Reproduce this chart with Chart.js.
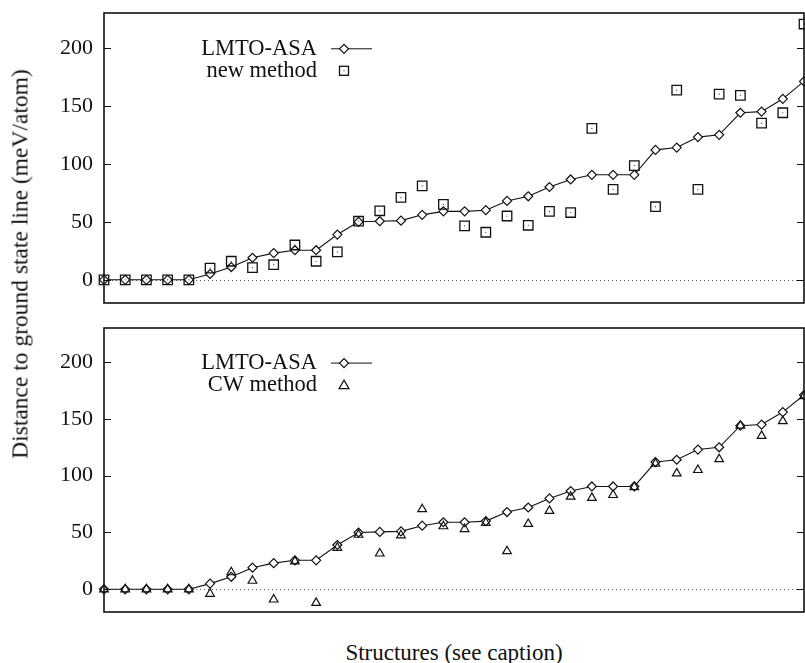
<!DOCTYPE html>
<html>
<head>
<meta charset="utf-8">
<script src="https://cdn.jsdelivr.net/npm/chart.js@4.4.1/dist/chart.umd.min.js"></script>
<style>
  html, body { margin: 0; padding: 0; background: #fff; }
  body { width: 805px; height: 663px; position: relative; overflow: hidden; font-family: "Liberation Serif", "DejaVu Serif", serif; }
  .panel { position: absolute; left: 0; width: 805px; }
  #felso { top: 0; height: 316px; }
  #also { top: 315px; height: 310px; }
  #ycim { position: absolute; left: 20px; top: 264px; transform: translate(-50%, -50%) rotate(-90deg); white-space: nowrap; font-size: 23.5px; color: #111; }
  #xcim { position: absolute; left: 454px; top: 653px; transform: translate(-50%, -50%); white-space: nowrap; font-size: 23px; color: #111; }
</style>
</head>
<body>
<div class="panel" id="felso"><canvas id="diagram1" width="805" height="316"></canvas></div>
<div class="panel" id="also"><canvas id="diagram2" width="805" height="310"></canvas></div>
<div id="ycim">Distance to ground state line (meV/atom)</div>
<div id="xcim">Structures (see caption)</div>
<script>
// szerkezetek (x tengely)
const szerkezetek = ['1','2','3','4','5','6','7','8','9','10','11','12','13','14','15','16','17',
    '18','19','20','21','22','23','24','25','26','27','28','29','30','31','32','33','34'];

// LMTO-ASA (mindket panelen ugyanaz)
const lmtoAsa = [0, 0, 0, 0, 0, 5, 11, 19, 23, 25.5, 25.5, 39, 50, 50.5, 51, 56, 59,
    59, 60, 68, 72, 80, 86.5, 90.5, 90.5, 90.5, 112, 114, 123, 125, 144, 145, 156, 171];

// uj modszer (felso panel)
const ujModszer = [0, 0, 0, 0, 0, 10, 16, 10.5, 13, 30, 16, 24, 50.5, 59.5, 71, 81, 65,
    46.5, 41, 55, 47, 59, 58, 130.5, 78, 98.5, 63, 163.5, 78, 160, 159, 135, 144, 220.5];

// CW modszer (also panel)
const cwModszer = [0, 0, 0, 0, 0, -4, 15, 7.5, -9, 24.5, -12, 36.5, 48, 31.5, 47.5, 70.5, 55.5,
    53, 58.5, 33.5, 57.5, 69, 81.5, 80.5, 83, 90, 110.5, 102, 105, 114.5, 144, 135, 148, 170];

const yTickek = [0, 50, 100, 150, 200];
const yMin = -20, yMax = 230;

const betu = '"Liberation Serif", "DejaVu Serif", serif';

// keret, befele allo tickek, pontozott nulla vonal, jelmagyarazat
function keretPlugin(jelmagyarazat) {
    return {
        id: 'keret',
        beforeDatasetsDraw(chart) {
            const ctx = chart.ctx;
            const a = chart.chartArea;
            const y = chart.scales.y;
            ctx.save();
            ctx.strokeStyle = '#555';
            ctx.lineWidth = 1;
            ctx.setLineDash([1, 3]);
            const y0 = Math.round(y.getPixelForValue(0)) + 0.5;
            ctx.beginPath();
            ctx.moveTo(a.left, y0);
            ctx.lineTo(a.right, y0);
            ctx.stroke();
            ctx.restore();
        },
        afterDraw(chart) {
            const ctx = chart.ctx;
            const a = chart.chartArea;
            const y = chart.scales.y;
            ctx.save();
            ctx.strokeStyle = '#111';
            ctx.lineWidth = 1.6;
            ctx.strokeRect(a.left, a.top, a.right - a.left, a.bottom - a.top);
            ctx.lineWidth = 1.2;
            yTickek.forEach(t => {
                const p = Math.round(y.getPixelForValue(t)) + 0.5;
                ctx.beginPath();
                ctx.moveTo(a.left, p); ctx.lineTo(a.left + 7, p);
                ctx.moveTo(a.right, p); ctx.lineTo(a.right - 7, p);
                ctx.stroke();
            });

            // jelmagyarazat
            ctx.fillStyle = '#111';
            ctx.font = '22.5px ' + betu;
            ctx.textAlign = 'right';
            ctx.textBaseline = 'middle';
            const y1 = y.getPixelForValue(200) + 1;
            const y2 = y1 + 22;
            ctx.fillText('LMTO-ASA', 317, y1);
            ctx.fillText(jelmagyarazat.nev, 317, y2);
            ctx.lineWidth = 1;
            ctx.beginPath();
            ctx.moveTo(331, y1); ctx.lineTo(372, y1);
            ctx.stroke();
            ctx.fillStyle = '#fff';
            ctx.lineWidth = 1.2;
            Chart.helpers.drawPoint(ctx, { pointStyle: 'rectRot', radius: 4.5, borderWidth: 1.2 }, 344, y1);
            ctx.strokeStyle = '#111';
            if (jelmagyarazat.stilus === 'rect') {
                ctx.lineWidth = 1.3;
                ctx.strokeRect(339.5, y2 - 4.5, 9, 9);
                ctx.fillStyle = '#111';
                ctx.fillRect(343.5, y2 - 0.5, 1, 1);
            } else {
                ctx.lineWidth = 1.2;
                ctx.beginPath();
                ctx.moveTo(344, y2 - 5); ctx.lineTo(349, y2 + 3.5); ctx.lineTo(339, y2 + 3.5);
                ctx.closePath();
                ctx.stroke();
            }
            ctx.restore();
        }
    };
}

function diagramOpciok() {
    return {
        responsive: false,
        animation: false,
        layout: { autoPadding: false, padding: { top: 13, right: 1, bottom: 13, left: 0 } },
        plugins: { legend: { display: false }, tooltip: { enabled: false } },
        scales: {
            x: {
                type: 'category',
                offset: false,
                display: false
            },
            y: {
                min: yMin,
                max: yMax,
                grid: { display: false, drawTicks: false },
                border: { display: false },
                afterBuildTicks(scale) { scale.ticks = yTickek.map(v => ({ value: v })); },
                afterFit(scale) {
                    scale.width = 104;
                    scale.paddingTop = 0;
                    scale.paddingBottom = 0;
                },
                ticks: {
                    padding: 11,
                    color: '#111',
                    font: { family: betu, size: 22 }
                }
            }
        }
    };
}

const lmtoDataset = {
    label: 'LMTO-ASA',
    data: lmtoAsa,
    borderColor: '#111',
    borderWidth: 1.1,
    pointStyle: 'rectRot',
    pointRadius: 4.5,
    pointBorderWidth: 1.2,
    pointBackgroundColor: '#fff',
    pointBorderColor: '#111',
    fill: false,
    tension: 0,
    clip: 8,
    order: 1
};

const diagram1 = new Chart(document.getElementById('diagram1').getContext('2d'), {
    type: 'line',
    data: {
        labels: szerkezetek,
        datasets: [
            lmtoDataset,
            {
                label: 'new method',
                data: ujModszer,
                showLine: false,
                pointStyle: 'rect',
                pointRadius: 6.7,
                pointBorderWidth: 1.3,
                pointBackgroundColor: 'rgba(255,255,255,0)',
                pointBorderColor: '#111',
                clip: 8,
                order: 0
            },
            {
                label: 'new method pont',
                data: ujModszer,
                showLine: false,
                pointStyle: 'circle',
                pointRadius: 0.6,
                pointBorderWidth: 0,
                pointBackgroundColor: '#333',
                clip: 8,
                order: 0
            }
        ]
    },
    options: diagramOpciok(),
    plugins: [keretPlugin({ nev: 'new method', stilus: 'rect' })]
});

const diagram2 = new Chart(document.getElementById('diagram2').getContext('2d'), {
    type: 'line',
    data: {
        labels: szerkezetek,
        datasets: [
            Object.assign({}, lmtoDataset),
            {
                label: 'CW method',
                data: cwModszer,
                showLine: false,
                pointStyle: 'triangle',
                pointRadius: 5,
                pointBorderWidth: 1.2,
                pointBackgroundColor: 'rgba(255,255,255,0)',
                pointBorderColor: '#111',
                clip: 8,
                order: 0
            }
        ]
    },
    options: diagramOpciok(),
    plugins: [keretPlugin({ nev: 'CW method', stilus: 'tri' })]
});
</script>
</body>
</html>
